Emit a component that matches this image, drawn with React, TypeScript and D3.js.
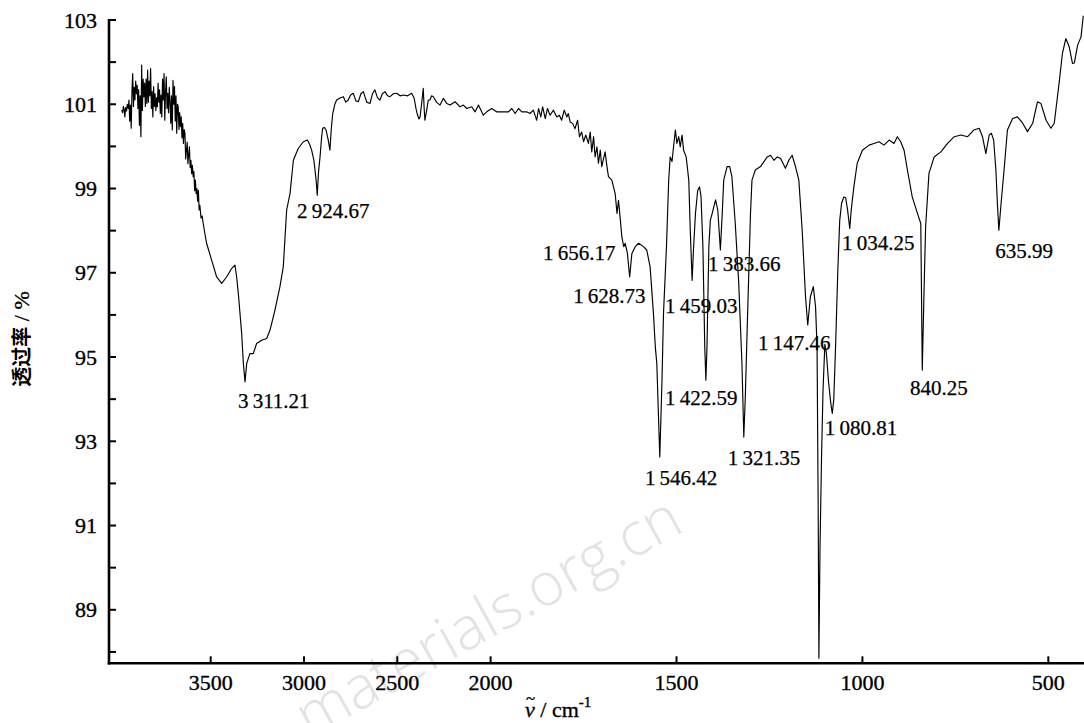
import React from 'react';
import * as d3 from 'd3';

// ---------- DATA ----------
// IR transmittance spectrum, [wavenumber cm-1, transmittance %]
const regionOH: number[][] = [
  [3977,100.86],[3972,100.80],[3968,100.95],[3964,100.88],[3960,100.70],[3956,100.92],[3951,100.84],[3947,101.00],
  [3942,100.90],[3938,101.10],[3934,100.60],[3930,100.98],[3926,100.43],[3922,101.30],[3918,101.73],[3914,100.95],
  [3910,101.40],[3906,101.10],[3902,101.55],[3898,101.25],[3894,101.45],[3890,100.90],[3886,101.35],[3882,100.50],
  [3878,101.20],[3874,100.23],[3870,101.93],[3866,100.85],[3862,101.60],[3858,101.18],[3854,101.50],[3850,100.95],
  [3846,101.60],[3842,101.02],[3838,101.81],[3834,101.05],[3830,101.55],[3826,101.20],[3822,101.85],[3818,100.90],
  [3814,101.30],[3810,100.70],[3806,101.42],[3802,100.95],[3798,101.25],[3794,100.85],[3790,101.15],[3786,100.94],
  [3782,101.50],[3778,101.05],[3774,101.34],[3770,100.78],[3766,101.22],[3762,100.70],[3758,101.60],[3754,101.10],
  [3750,101.73],[3746,100.62],[3742,101.30],[3738,101.65],[3734,100.90],[3730,101.26],[3726,100.80],[3722,101.40],
  [3718,101.06],[3714,100.55],[3710,101.20],[3706,100.39],[3702,101.57],[3698,101.00],[3694,101.42],[3690,100.60],
  [3686,101.20],[3682,100.31],[3678,101.00],[3674,100.94],[3670,100.40],[3666,100.80],[3662,100.47],[3658,100.70],
  [3654,100.20],[3650,100.55],[3646,100.07],[3642,100.40],[3638,100.31],[3634,99.70],[3630,99.91],[3626,100.10],
  [3622,99.59],[3618,99.80],[3614,99.99],[3610,99.50],[3606,99.67],[3602,99.35],[3598,99.55],[3594,99.28],
  [3590,99.40],[3586,98.95],[3582,99.20],[3578,98.88],[3574,99.00],[3570,98.70],[3566,98.96],[3562,98.49],
  [3558,98.60],[3552,98.30],[3546,98.35],[3540,98.17],[3532,97.95],[3522,97.70],[3495,97.30],[3468,96.90],
  [3441,96.75],[3415,96.90],[3388,97.10],[3370,97.18],[3361,96.90],[3352,96.51],[3334,95.56],[3325,94.85],
  [3316,94.41],[3307,94.85],[3290,95.08],[3272,95.08],[3254,95.32],[3227,95.40],[3200,95.44],[3182,95.64],
  [3156,96.11],[3129,96.67],[3111,97.14],[3093,98.49],[3075,98.88],[3057,99.67],[3031,99.95],[3004,100.11],
];

const regionCH: number[][] = [
  [2982,100.15],[2970,100.05],[2959,99.91],[2947,99.67],[2935,99.20],[2929,98.84],[2922,99.40],[2914,99.75],
  [2906,100.20],[2900,100.43],[2891,100.45],[2882,100.39],[2870,100.15],[2861,99.91],[2854,100.40],[2846,100.78],
  [2835,101.00],[2825,101.10],[2807,101.15],[2789,101.18],[2776,101.05],[2763,101.10],[2750,101.22],[2736,101.26],
  [2722,101.08],[2709,101.06],[2695,101.25],[2682,101.30],[2664,101.05],[2646,101.02],[2633,101.25],[2620,101.34],
  [2606,101.15],[2593,101.10],[2580,101.25],[2566,101.30],[2552,101.20],[2539,101.18],[2521,101.25],[2503,101.26],
  [2485,101.20],[2468,101.22],[2445,101.20],[2423,101.26],[2410,101.15],[2400,100.90],[2392,100.75],[2384,100.65],
  [2378,100.70],[2370,101.00],[2361,101.38],[2356,100.90],[2352,100.62],[2343,100.85],[2334,101.10],[2325,101.10],
  [2316,101.20],[2307,101.18],[2290,101.05],[2271,100.98],[2253,101.14],[2235,101.02],[2217,100.98],[2190,101.06],
  [2164,100.94],[2146,100.98],[2128,100.90],[2101,100.94],[2083,100.82],[2065,100.98],[2039,100.74],[2021,100.82],
];

const regionAmide: number[][] = [
  [1997,100.90],[1984,100.82],[1970,100.82],[1952,100.82],[1943,100.90],[1934,100.78],[1925,100.90],[1916,100.82],
  [1903,100.82],[1894,100.78],[1885,100.86],[1876,100.62],[1871,100.90],[1865,100.70],[1860,100.94],[1853,100.66],
  [1847,100.90],[1840,100.74],[1831,100.86],[1822,100.70],[1815,100.74],[1809,100.62],[1802,100.86],[1795,100.70],
  [1791,100.78],[1786,100.58],[1779,100.54],[1773,100.42],[1766,100.62],[1761,100.23],[1755,100.34],[1750,100.11],
  [1744,100.27],[1737,100.07],[1732,100.34],[1728,99.87],[1723,100.23],[1719,99.75],[1714,99.99],[1710,99.60],
  [1705,99.91],[1701,99.52],[1692,99.87],[1687,99.52],[1683,99.28],[1674,99.20],[1665,98.88],[1660,98.41],
  [1656,98.72],[1651,98.25],[1647,97.85],[1642,97.62],[1638,97.70],[1632,97.46],[1626,96.90],[1620,97.46],
  [1611,97.62],[1602,97.70],[1589,97.62],[1580,97.54],[1571,97.14],[1562,96.03],[1557,95.24],[1553,94.85],
  [1545,92.63],[1539,94.45],[1535,96.03],[1527,97.62],[1521,99.20],[1517,99.75],[1512,99.64],[1508,99.99],
  [1503,100.39],[1499,100.07],[1494,100.23],[1490,99.99],[1485,100.27],[1481,99.91],[1474,99.75],[1467,99.20],
  [1463,98.01],[1458,96.82],[1454,97.62],[1449,98.41],[1443,98.96],[1438,99.04],[1434,98.80],[1429,97.62],
  [1424,95.24],[1421,94.45],[1418,95.24],[1413,97.62],[1409,98.25],[1404,98.41],[1395,98.73],[1389,98.49],
  [1382,97.54],[1377,98.41],[1373,99.20],[1364,99.52],[1357,99.52],[1351,99.28],[1342,98.17],[1333,96.82],
  [1324,94.85],[1319,93.10],[1315,94.05],[1310,95.64],[1301,98.41],[1297,99.20],[1288,99.44],[1274,99.52],
  [1256,99.75],[1247,99.79],[1238,99.67],[1229,99.75],[1220,99.71],[1207,99.48],[1198,99.67],[1189,99.79],
  [1180,99.52],[1171,99.20],[1162,98.01],[1153,96.43],[1147,95.76],[1140,96.43],[1132,96.67],[1126,96.19],
  [1122,95.24],[1119,91.50],[1117,87.85],
];

const regionLow: number[][] = [
  [1114,90.50],[1110,92.60],[1106,94.20],[1101,95.30],[1097,95.10],[1091,94.40],[1085,93.90],[1081,93.66],
  [1077,94.00],[1072,95.30],[1066,97.10],[1061,98.25],[1056,98.65],[1050,98.80],[1045,98.78],[1040,98.50],
  [1034,98.05],[1030,98.50],[1023,99.04],[1014,99.60],[1000,99.91],[982,100.03],[969,100.07],[955,100.11],
  [942,100.03],[928,100.15],[915,100.07],[906,100.23],[897,100.11],[888,99.91],[879,99.44],[866,98.80],
  [852,98.41],[843,98.17],[839,94.69],[834,96.67],[830,98.09],[821,99.36],[807,99.75],[789,99.87],
  [771,100.07],[753,100.23],[735,100.27],[717,100.23],[700,100.39],[686,100.43],[677,100.23],[668,99.83],
  [659,100.27],[653,100.31],[647,100.15],[641,99.44],[637,98.65],[633,98.01],[627,98.65],[619,99.44],
  [610,100.39],[596,100.66],[583,100.70],[569,100.55],[556,100.35],[542,100.55],[529,101.06],[520,101.02],
  [506,100.62],[493,100.43],[484,100.55],[471,101.50],[462,102.21],[453,102.56],[444,102.37],[435,101.97],
  [430,101.98],[421,102.41],[412,102.60],[406,103.10],
];

// peak annotations: label text, anchor (wavenumber, transmittance) of the label's left baseline
const peakLabels = ['3\u2009311.21','2\u2009924.67','1\u2009656.17','1\u2009628.73','1\u2009459.03','1\u2009383.66','1\u2009422.59','1\u2009546.42','1\u2009321.35','1\u2009147.46','1\u2009034.25','840.25','635.99','1\u2009080.81'];
const peakLabelWn = [3354, 3037, 1859, 1778, 1531, 1415, 1531, 1585, 1362, 1281, 1055, 872, 643, 1101];
const peakLabelT = [93.79, 98.30, 97.30, 96.28, 96.05, 97.04, 93.86, 91.96, 92.44, 95.17, 97.54, 94.10, 97.35, 93.15];

const xTicks = [3500, 3000, 2500, 2000, 1500, 1000, 500];
const yTicks = [88, 89, 90, 91, 92, 93, 94, 95, 96, 97, 98, 99, 100, 101, 102, 103];
const yTickLabels = [89, 91, 93, 95, 97, 99, 101, 103];

const W = 1084;
const H = 723;

export default function App() {
  const x = d3.scaleLinear().domain([4045, 2000, 400]).range([109, 490.6, 1085.5]);
  const y = d3.scaleLinear().domain([87.73, 103]).range([663.3, 20]);
  const data = [...regionOH, ...regionCH, ...regionAmide, ...regionLow];
  const line = d3.line<number[]>().x(d => x(d[0])).y(d => y(d[1]));
  const axisY = y(87.73);
  const axisX = 109;
  const serif = { fontFamily: '"Liberation Serif", "Times New Roman", serif' };
  const ink = { fill: '#000', stroke: '#000', strokeWidth: 0.35 };

  return (
    <div style={{ position: 'absolute', left: 0, top: 0 }}>
      <svg width={W} height={H} style={{ display: 'block', background: '#fff' }}>
        <rect x={0} y={0} width={W} height={H} fill="#fff" />
        {/* watermark */}
        <text transform="translate(686,530) rotate(-29)" textAnchor="end" fontSize={60}
          fill="#e3e3e3" style={{ fontFamily: '"Open Sans", "DejaVu Sans", sans-serif', fontWeight: 300 }}>materials.org.cn</text>

        {/* spectrum */}
        <path d={line(data) || ''} fill="none" stroke="#000" strokeWidth={1.15} strokeLinejoin="round" />

        {/* axes */}
        <line x1={axisX} x2={axisX} y1={y(103) - 1} y2={axisY + 1.3} stroke="#000" strokeWidth={2.6} />
        <line x1={axisX - 1.3} x2={W} y1={axisY} y2={axisY} stroke="#000" strokeWidth={2.6} />
        {yTicks.map(t => (
          <line key={'yt' + t} x1={axisX} x2={axisX + 7} y1={y(t)} y2={y(t)} stroke="#000" strokeWidth={2} />
        ))}
        {yTickLabels.map(t => (
          <text key={'yl' + t} x={97} y={y(t)} dy={7.5} textAnchor="end" fontSize={22} style={{ ...serif, ...ink }}>{t}</text>
        ))}
        {xTicks.map(t => (
          <line key={'xt' + t} x1={x(t)} x2={x(t)} y1={axisY} y2={axisY - 7} stroke="#000" strokeWidth={2} />
        ))}
        {xTicks.map(t => (
          <text key={'xl' + t} x={x(t)} y={690} textAnchor="middle" fontSize={22} style={{ ...serif, ...ink }}>{t}</text>
        ))}

        {/* peak labels */}
        {peakLabels.map((s, i) => (
          <text key={'pk' + i} x={x(peakLabelWn[i])} y={y(peakLabelT[i])} fontSize={21} style={{ ...serif, ...ink, strokeWidth: 0.25 }}>{s}</text>
        ))}

        {/* axis titles */}
        <text x={525} y={717} fontSize={22} style={{ ...serif, ...ink }}>
          <tspan fontStyle="italic">{'\u03BD'}</tspan>
          <tspan>{' / cm'}</tspan>
          <tspan dy={-10} fontSize={15}>-1</tspan>
        </text>
        <text x={526} y={704} fontSize={17} style={{ ...serif, ...ink }}>~</text>
        <text transform="translate(29,339) rotate(-90)" textAnchor="middle" fontSize={20}>
          <tspan style={{ fontFamily: '"Noto Sans CJK SC", sans-serif', fontWeight: 700 }}>透过率</tspan>
          <tspan style={{ ...serif, ...ink }} fontSize={22}>{' / %'}</tspan>
        </text>
      </svg>
    </div>
  );
}
